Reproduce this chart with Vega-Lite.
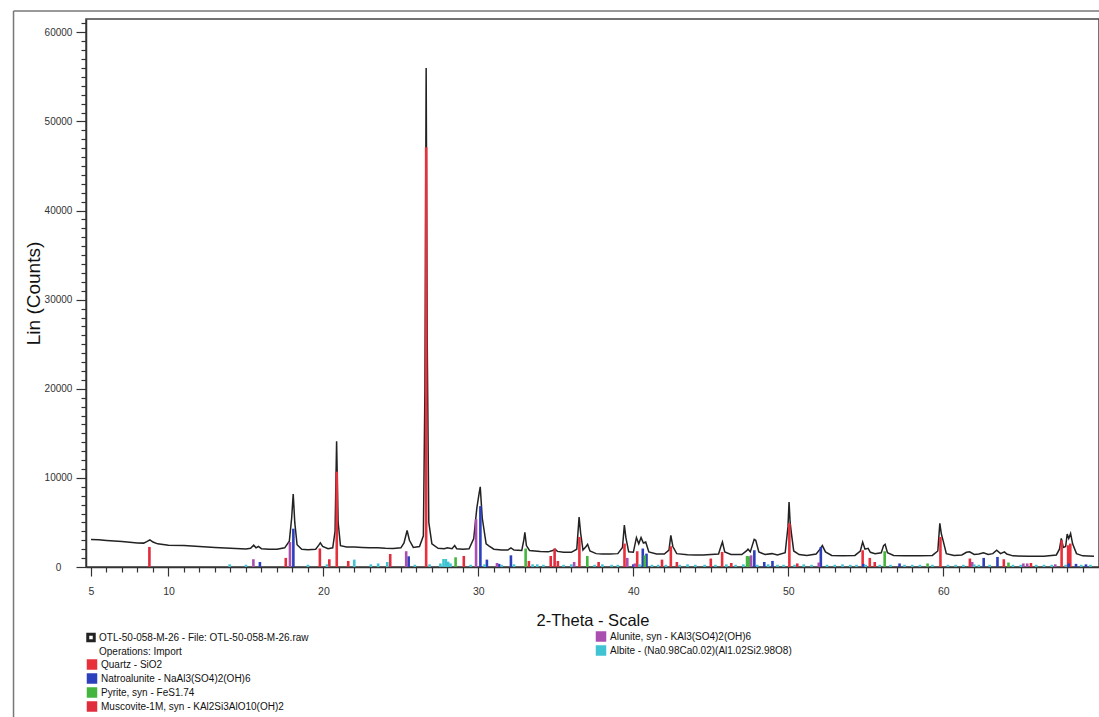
{
  "$schema": "https://vega.github.io/schema/vega-lite/v6.json",
  "width": 1013,
  "height": 548,
  "autosize": {"type": "none"},
  "padding": {"left": 86, "top": 19, "right": 0, "bottom": 150},
  "background": "white",
  "config": {
    "font": "Liberation Sans",
    "view": {"stroke": "#444", "strokeWidth": 1.5},
    "legend": {"labelFont": "Liberation Sans", "labelFontSize": 10, "labelColor": "#111", "padding": 0, "rowPadding": 3, "clipHeight": 11, "labelOffset": 3, "labelLimit": 400}
  },
  "resolve": {"axis": {"x": "independent", "y": "independent"}},
  "datasets": {
    "scan": [
      {"t":5.0,"c":3100},{"t":5.5,"c":3050},{"t":6.0,"c":2980},{"t":6.5,"c":2920},{"t":7.0,"c":2850},{"t":7.5,"c":2780},{"t":8.0,"c":2700},{"t":8.4,"c":2680},{"t":8.6,"c":2850},{"t":8.8,"c":3050},{"t":9.0,"c":2800},{"t":9.3,"c":2600},{"t":10.0,"c":2450},{"t":11.0,"c":2400},{"t":12.0,"c":2300},{"t":13.0,"c":2200},{"t":14.0,"c":2100},{"t":15.0,"c":2030},{"t":15.3,"c":2100},{"t":15.5,"c":2450},{"t":15.65,"c":2150},{"t":15.8,"c":2300},{"t":16.0,"c":2050},{"t":16.5,"c":1980},{"t":17.0,"c":2000},{"t":17.5,"c":2150},{"t":17.8,"c":2900},{"t":17.95,"c":5500},{"t":18.05,"c":8200},{"t":18.15,"c":5000},{"t":18.3,"c":2500},{"t":18.6,"c":2000},{"t":19.0,"c":1950},{"t":19.5,"c":2000},{"t":19.7,"c":2450},{"t":19.8,"c":2700},{"t":19.95,"c":2300},{"t":20.3,"c":2050},{"t":20.6,"c":2150},{"t":20.75,"c":4000},{"t":20.85,"c":14100},{"t":20.95,"c":5000},{"t":21.1,"c":2400},{"t":21.5,"c":2250},{"t":22.0,"c":2250},{"t":22.5,"c":2200},{"t":23.0,"c":2150},{"t":23.5,"c":2150},{"t":24.0,"c":2100},{"t":24.5,"c":2080},{"t":25.0,"c":2150},{"t":25.2,"c":2700},{"t":25.4,"c":4100},{"t":25.55,"c":3000},{"t":25.8,"c":2200},{"t":26.2,"c":2300},{"t":26.45,"c":3500},{"t":26.55,"c":20000},{"t":26.63,"c":56000},{"t":26.7,"c":25000},{"t":26.8,"c":5000},{"t":27.0,"c":2600},{"t":27.4,"c":2100},{"t":27.8,"c":2050},{"t":28.0,"c":2150},{"t":28.3,"c":2050},{"t":28.47,"c":2400},{"t":28.6,"c":2050},{"t":29.0,"c":2000},{"t":29.4,"c":2050},{"t":29.7,"c":3200},{"t":29.9,"c":6600},{"t":30.05,"c":8300},{"t":30.12,"c":9000},{"t":30.25,"c":5500},{"t":30.5,"c":2600},{"t":30.7,"c":2350},{"t":31.0,"c":2000},{"t":31.5,"c":1900},{"t":31.9,"c":1900},{"t":32.1,"c":2150},{"t":32.3,"c":1900},{"t":32.8,"c":1850},{"t":32.93,"c":3000},{"t":33.0,"c":3900},{"t":33.1,"c":2400},{"t":33.3,"c":1850},{"t":34.0,"c":1750},{"t":34.5,"c":1700},{"t":34.8,"c":1850},{"t":34.95,"c":2000},{"t":35.1,"c":1750},{"t":35.5,"c":1650},{"t":36.0,"c":1650},{"t":36.35,"c":2000},{"t":36.5,"c":5600},{"t":36.6,"c":3800},{"t":36.75,"c":1900},{"t":36.95,"c":2300},{"t":37.05,"c":2550},{"t":37.2,"c":1800},{"t":37.6,"c":1500},{"t":38.0,"c":1450},{"t":38.5,"c":1450},{"t":39.0,"c":1500},{"t":39.3,"c":2200},{"t":39.42,"c":4700},{"t":39.52,"c":3300},{"t":39.7,"c":1700},{"t":40.0,"c":1650},{"t":40.2,"c":3300},{"t":40.35,"c":2600},{"t":40.5,"c":3300},{"t":40.65,"c":2700},{"t":40.8,"c":2800},{"t":41.0,"c":1700},{"t":41.5,"c":1450},{"t":42.0,"c":1450},{"t":42.3,"c":1900},{"t":42.42,"c":3550},{"t":42.55,"c":2300},{"t":42.8,"c":1500},{"t":43.5,"c":1380},{"t":44.0,"c":1350},{"t":44.5,"c":1350},{"t":45.0,"c":1400},{"t":45.5,"c":1450},{"t":45.65,"c":2300},{"t":45.75,"c":2800},{"t":45.9,"c":1700},{"t":46.3,"c":1400},{"t":47.0,"c":1400},{"t":47.3,"c":1800},{"t":47.4,"c":2000},{"t":47.55,"c":1700},{"t":47.8,"c":3100},{"t":47.9,"c":3000},{"t":48.1,"c":1700},{"t":48.5,"c":1400},{"t":48.95,"c":1500},{"t":49.3,"c":1350},{"t":49.8,"c":1600},{"t":49.98,"c":4500},{"t":50.05,"c":7300},{"t":50.12,"c":5000},{"t":50.2,"c":3800},{"t":50.35,"c":1800},{"t":50.7,"c":1400},{"t":51.2,"c":1300},{"t":51.8,"c":1450},{"t":52.05,"c":2000},{"t":52.2,"c":2400},{"t":52.4,"c":1700},{"t":52.8,"c":1300},{"t":53.5,"c":1250},{"t":54.3,"c":1300},{"t":54.65,"c":1800},{"t":54.8,"c":2800},{"t":54.95,"c":2000},{"t":55.15,"c":2100},{"t":55.3,"c":1650},{"t":55.6,"c":1500},{"t":56.0,"c":1600},{"t":56.15,"c":2400},{"t":56.25,"c":2550},{"t":56.4,"c":1600},{"t":56.8,"c":1300},{"t":57.5,"c":1250},{"t":58.5,"c":1250},{"t":59.3,"c":1300},{"t":59.65,"c":1800},{"t":59.78,"c":4900},{"t":59.88,"c":3700},{"t":60.0,"c":2900},{"t":60.2,"c":1500},{"t":60.7,"c":1300},{"t":61.2,"c":1350},{"t":61.5,"c":1650},{"t":61.7,"c":1700},{"t":62.0,"c":1400},{"t":62.3,"c":1450},{"t":62.6,"c":1600},{"t":62.9,"c":1400},{"t":63.2,"c":1500},{"t":63.45,"c":1880},{"t":63.7,"c":1500},{"t":63.95,"c":1700},{"t":64.1,"c":1450},{"t":64.5,"c":1250},{"t":65.5,"c":1200},{"t":66.5,"c":1200},{"t":67.3,"c":1350},{"t":67.5,"c":2000},{"t":67.62,"c":3200},{"t":67.75,"c":2200},{"t":67.9,"c":2300},{"t":68.0,"c":3700},{"t":68.1,"c":3200},{"t":68.22,"c":3750},{"t":68.35,"c":2600},{"t":68.6,"c":1500},{"t":69.0,"c":1250},{"t":69.73,"c":1200}
    ],
    "sticks": [
      {"phase":"Quartz - SiO2","t":20.86,"c":10700},{"phase":"Quartz - SiO2","t":26.63,"c":47100},{"phase":"Quartz - SiO2","t":36.52,"c":3370},{"phase":"Quartz - SiO2","t":39.43,"c":2630},{"phase":"Quartz - SiO2","t":40.25,"c":1770},{"phase":"Quartz - SiO2","t":42.42,"c":2330},{"phase":"Quartz - SiO2","t":45.73,"c":1690},{"phase":"Quartz - SiO2","t":50.07,"c":4900},{"phase":"Quartz - SiO2","t":54.8,"c":1880},{"phase":"Quartz - SiO2","t":55.26,"c":1020},{"phase":"Quartz - SiO2","t":59.82,"c":3370},{"phase":"Quartz - SiO2","t":67.64,"c":3000},{"phase":"Quartz - SiO2","t":68.06,"c":2440},{"phase":"Quartz - SiO2","t":68.2,"c":2630},
      {"phase":"Muscovite-1M, syn - KAl2Si3AlO10(OH)2","t":8.77,"c":2250},{"phase":"Muscovite-1M, syn - KAl2Si3AlO10(OH)2","t":17.57,"c":1020},{"phase":"Muscovite-1M, syn - KAl2Si3AlO10(OH)2","t":19.77,"c":2080},{"phase":"Muscovite-1M, syn - KAl2Si3AlO10(OH)2","t":20.38,"c":870},{"phase":"Muscovite-1M, syn - KAl2Si3AlO10(OH)2","t":21.6,"c":680},{"phase":"Muscovite-1M, syn - KAl2Si3AlO10(OH)2","t":24.31,"c":1460},{"phase":"Muscovite-1M, syn - KAl2Si3AlO10(OH)2","t":29.06,"c":1240},{"phase":"Muscovite-1M, syn - KAl2Si3AlO10(OH)2","t":33.26,"c":680},{"phase":"Muscovite-1M, syn - KAl2Si3AlO10(OH)2","t":34.67,"c":1240},{"phase":"Muscovite-1M, syn - KAl2Si3AlO10(OH)2","t":34.92,"c":2070},{"phase":"Muscovite-1M, syn - KAl2Si3AlO10(OH)2","t":35.13,"c":680},{"phase":"Muscovite-1M, syn - KAl2Si3AlO10(OH)2","t":37.76,"c":560},{"phase":"Muscovite-1M, syn - KAl2Si3AlO10(OH)2","t":41.85,"c":830},{"phase":"Muscovite-1M, syn - KAl2Si3AlO10(OH)2","t":42.81,"c":560},{"phase":"Muscovite-1M, syn - KAl2Si3AlO10(OH)2","t":45.0,"c":950},{"phase":"Muscovite-1M, syn - KAl2Si3AlO10(OH)2","t":46.32,"c":450},{"phase":"Muscovite-1M, syn - KAl2Si3AlO10(OH)2","t":50.58,"c":400},{"phase":"Muscovite-1M, syn - KAl2Si3AlO10(OH)2","t":55.58,"c":560},{"phase":"Muscovite-1M, syn - KAl2Si3AlO10(OH)2","t":61.72,"c":950},{"phase":"Muscovite-1M, syn - KAl2Si3AlO10(OH)2","t":63.91,"c":870},{"phase":"Muscovite-1M, syn - KAl2Si3AlO10(OH)2","t":65.66,"c":450},
      {"phase":"Natroalunite - NaAl3(SO4)2(OH)6","t":15.9,"c":560},{"phase":"Natroalunite - NaAl3(SO4)2(OH)6","t":18.06,"c":4300},{"phase":"Natroalunite - NaAl3(SO4)2(OH)6","t":25.5,"c":1200},{"phase":"Natroalunite - NaAl3(SO4)2(OH)6","t":30.13,"c":6830},{"phase":"Natroalunite - NaAl3(SO4)2(OH)6","t":30.55,"c":830},{"phase":"Natroalunite - NaAl3(SO4)2(OH)6","t":31.34,"c":350},{"phase":"Natroalunite - NaAl3(SO4)2(OH)6","t":32.1,"c":1310},{"phase":"Natroalunite - NaAl3(SO4)2(OH)6","t":40.0,"c":300},{"phase":"Natroalunite - NaAl3(SO4)2(OH)6","t":40.61,"c":2070},{"phase":"Natroalunite - NaAl3(SO4)2(OH)6","t":40.85,"c":1500},{"phase":"Natroalunite - NaAl3(SO4)2(OH)6","t":47.81,"c":1880},{"phase":"Natroalunite - NaAl3(SO4)2(OH)6","t":48.45,"c":560},{"phase":"Natroalunite - NaAl3(SO4)2(OH)6","t":48.98,"c":680},{"phase":"Natroalunite - NaAl3(SO4)2(OH)6","t":52.1,"c":2250},{"phase":"Natroalunite - NaAl3(SO4)2(OH)6","t":54.84,"c":350},{"phase":"Natroalunite - NaAl3(SO4)2(OH)6","t":57.18,"c":400},{"phase":"Natroalunite - NaAl3(SO4)2(OH)6","t":62.61,"c":1020},{"phase":"Natroalunite - NaAl3(SO4)2(OH)6","t":63.5,"c":1130},{"phase":"Natroalunite - NaAl3(SO4)2(OH)6","t":68.1,"c":400},{"phase":"Natroalunite - NaAl3(SO4)2(OH)6","t":68.57,"c":350},{"phase":"Natroalunite - NaAl3(SO4)2(OH)6","t":69.21,"c":300},
      {"phase":"Pyrite, syn - FeS1.74","t":28.53,"c":1090},{"phase":"Pyrite, syn - FeS1.74","t":33.05,"c":2070},{"phase":"Pyrite, syn - FeS1.74","t":37.03,"c":1240},{"phase":"Pyrite, syn - FeS1.74","t":40.74,"c":1300},{"phase":"Pyrite, syn - FeS1.74","t":47.34,"c":1240},{"phase":"Pyrite, syn - FeS1.74","t":47.45,"c":1200},{"phase":"Pyrite, syn - FeS1.74","t":56.22,"c":1770},{"phase":"Pyrite, syn - FeS1.74","t":58.99,"c":400},{"phase":"Pyrite, syn - FeS1.74","t":64.21,"c":500},
      {"phase":"Alunite, syn - KAl3(SO4)2(OH)6","t":15.48,"c":870},{"phase":"Alunite, syn - KAl3(SO4)2(OH)6","t":17.84,"c":2800},{"phase":"Alunite, syn - KAl3(SO4)2(OH)6","t":25.34,"c":1770},{"phase":"Alunite, syn - KAl3(SO4)2(OH)6","t":29.85,"c":5370},{"phase":"Alunite, syn - KAl3(SO4)2(OH)6","t":31.2,"c":450},{"phase":"Alunite, syn - KAl3(SO4)2(OH)6","t":36.18,"c":560},{"phase":"Alunite, syn - KAl3(SO4)2(OH)6","t":39.61,"c":1020},{"phase":"Alunite, syn - KAl3(SO4)2(OH)6","t":40.1,"c":400},{"phase":"Alunite, syn - KAl3(SO4)2(OH)6","t":47.6,"c":1310},{"phase":"Alunite, syn - KAl3(SO4)2(OH)6","t":51.97,"c":500},{"phase":"Alunite, syn - KAl3(SO4)2(OH)6","t":61.87,"c":560},{"phase":"Alunite, syn - KAl3(SO4)2(OH)6","t":65.17,"c":400},{"phase":"Alunite, syn - KAl3(SO4)2(OH)6","t":65.42,"c":400},{"phase":"Alunite, syn - KAl3(SO4)2(OH)6","t":67.23,"c":300},
      {"phase":"Albite - (Na0.98Ca0.02)(Al1.02Si2.98O8)","t":13.95,"c":300},{"phase":"Albite - (Na0.98Ca0.02)(Al1.02Si2.98O8)","t":15.0,"c":250},{"phase":"Albite - (Na0.98Ca0.02)(Al1.02Si2.98O8)","t":19.0,"c":250},{"phase":"Albite - (Na0.98Ca0.02)(Al1.02Si2.98O8)","t":20.23,"c":300},{"phase":"Albite - (Na0.98Ca0.02)(Al1.02Si2.98O8)","t":21.99,"c":830},{"phase":"Albite - (Na0.98Ca0.02)(Al1.02Si2.98O8)","t":23.06,"c":300},{"phase":"Albite - (Na0.98Ca0.02)(Al1.02Si2.98O8)","t":23.53,"c":400},{"phase":"Albite - (Na0.98Ca0.02)(Al1.02Si2.98O8)","t":24.12,"c":560},{"phase":"Albite - (Na0.98Ca0.02)(Al1.02Si2.98O8)","t":25.9,"c":250},{"phase":"Albite - (Na0.98Ca0.02)(Al1.02Si2.98O8)","t":26.85,"c":300},{"phase":"Albite - (Na0.98Ca0.02)(Al1.02Si2.98O8)","t":27.55,"c":400},{"phase":"Albite - (Na0.98Ca0.02)(Al1.02Si2.98O8)","t":27.75,"c":900},{"phase":"Albite - (Na0.98Ca0.02)(Al1.02Si2.98O8)","t":27.9,"c":900},{"phase":"Albite - (Na0.98Ca0.02)(Al1.02Si2.98O8)","t":28.05,"c":600},{"phase":"Albite - (Na0.98Ca0.02)(Al1.02Si2.98O8)","t":28.2,"c":400},{"phase":"Albite - (Na0.98Ca0.02)(Al1.02Si2.98O8)","t":29.5,"c":250},{"phase":"Albite - (Na0.98Ca0.02)(Al1.02Si2.98O8)","t":30.4,"c":300},{"phase":"Albite - (Na0.98Ca0.02)(Al1.02Si2.98O8)","t":31.5,"c":250},{"phase":"Albite - (Na0.98Ca0.02)(Al1.02Si2.98O8)","t":32.3,"c":300},{"phase":"Albite - (Na0.98Ca0.02)(Al1.02Si2.98O8)","t":33.5,"c":300},{"phase":"Albite - (Na0.98Ca0.02)(Al1.02Si2.98O8)","t":33.8,"c":300},{"phase":"Albite - (Na0.98Ca0.02)(Al1.02Si2.98O8)","t":34.2,"c":250},{"phase":"Albite - (Na0.98Ca0.02)(Al1.02Si2.98O8)","t":35.5,"c":250},{"phase":"Albite - (Na0.98Ca0.02)(Al1.02Si2.98O8)","t":36.0,"c":300},{"phase":"Albite - (Na0.98Ca0.02)(Al1.02Si2.98O8)","t":37.5,"c":250},{"phase":"Albite - (Na0.98Ca0.02)(Al1.02Si2.98O8)","t":38.0,"c":300},{"phase":"Albite - (Na0.98Ca0.02)(Al1.02Si2.98O8)","t":38.6,"c":250},{"phase":"Albite - (Na0.98Ca0.02)(Al1.02Si2.98O8)","t":39.0,"c":250},{"phase":"Albite - (Na0.98Ca0.02)(Al1.02Si2.98O8)","t":40.4,"c":300},{"phase":"Albite - (Na0.98Ca0.02)(Al1.02Si2.98O8)","t":41.2,"c":250},{"phase":"Albite - (Na0.98Ca0.02)(Al1.02Si2.98O8)","t":41.6,"c":250},{"phase":"Albite - (Na0.98Ca0.02)(Al1.02Si2.98O8)","t":42.1,"c":250},{"phase":"Albite - (Na0.98Ca0.02)(Al1.02Si2.98O8)","t":43.0,"c":250},{"phase":"Albite - (Na0.98Ca0.02)(Al1.02Si2.98O8)","t":43.5,"c":300},{"phase":"Albite - (Na0.98Ca0.02)(Al1.02Si2.98O8)","t":44.0,"c":250},{"phase":"Albite - (Na0.98Ca0.02)(Al1.02Si2.98O8)","t":44.6,"c":250},{"phase":"Albite - (Na0.98Ca0.02)(Al1.02Si2.98O8)","t":45.3,"c":250},{"phase":"Albite - (Na0.98Ca0.02)(Al1.02Si2.98O8)","t":46.0,"c":300},{"phase":"Albite - (Na0.98Ca0.02)(Al1.02Si2.98O8)","t":46.6,"c":250},{"phase":"Albite - (Na0.98Ca0.02)(Al1.02Si2.98O8)","t":47.1,"c":300},{"phase":"Albite - (Na0.98Ca0.02)(Al1.02Si2.98O8)","t":48.0,"c":250},{"phase":"Albite - (Na0.98Ca0.02)(Al1.02Si2.98O8)","t":48.7,"c":300},{"phase":"Albite - (Na0.98Ca0.02)(Al1.02Si2.98O8)","t":49.3,"c":250},{"phase":"Albite - (Na0.98Ca0.02)(Al1.02Si2.98O8)","t":49.7,"c":250},{"phase":"Albite - (Na0.98Ca0.02)(Al1.02Si2.98O8)","t":50.4,"c":250},{"phase":"Albite - (Na0.98Ca0.02)(Al1.02Si2.98O8)","t":51.0,"c":300},{"phase":"Albite - (Na0.98Ca0.02)(Al1.02Si2.98O8)","t":51.5,"c":250},{"phase":"Albite - (Na0.98Ca0.02)(Al1.02Si2.98O8)","t":52.5,"c":250},{"phase":"Albite - (Na0.98Ca0.02)(Al1.02Si2.98O8)","t":53.0,"c":250},{"phase":"Albite - (Na0.98Ca0.02)(Al1.02Si2.98O8)","t":53.5,"c":300},{"phase":"Albite - (Na0.98Ca0.02)(Al1.02Si2.98O8)","t":54.0,"c":250},{"phase":"Albite - (Na0.98Ca0.02)(Al1.02Si2.98O8)","t":54.4,"c":250},{"phase":"Albite - (Na0.98Ca0.02)(Al1.02Si2.98O8)","t":55.0,"c":250},{"phase":"Albite - (Na0.98Ca0.02)(Al1.02Si2.98O8)","t":55.9,"c":250},{"phase":"Albite - (Na0.98Ca0.02)(Al1.02Si2.98O8)","t":56.6,"c":250},{"phase":"Albite - (Na0.98Ca0.02)(Al1.02Si2.98O8)","t":57.5,"c":250},{"phase":"Albite - (Na0.98Ca0.02)(Al1.02Si2.98O8)","t":58.0,"c":250},{"phase":"Albite - (Na0.98Ca0.02)(Al1.02Si2.98O8)","t":58.5,"c":250},{"phase":"Albite - (Na0.98Ca0.02)(Al1.02Si2.98O8)","t":59.3,"c":250},{"phase":"Albite - (Na0.98Ca0.02)(Al1.02Si2.98O8)","t":60.3,"c":250},{"phase":"Albite - (Na0.98Ca0.02)(Al1.02Si2.98O8)","t":60.8,"c":250},{"phase":"Albite - (Na0.98Ca0.02)(Al1.02Si2.98O8)","t":61.3,"c":250},{"phase":"Albite - (Na0.98Ca0.02)(Al1.02Si2.98O8)","t":62.0,"c":300},{"phase":"Albite - (Na0.98Ca0.02)(Al1.02Si2.98O8)","t":62.3,"c":250},{"phase":"Albite - (Na0.98Ca0.02)(Al1.02Si2.98O8)","t":63.0,"c":250},{"phase":"Albite - (Na0.98Ca0.02)(Al1.02Si2.98O8)","t":64.5,"c":250},{"phase":"Albite - (Na0.98Ca0.02)(Al1.02Si2.98O8)","t":65.0,"c":250},{"phase":"Albite - (Na0.98Ca0.02)(Al1.02Si2.98O8)","t":66.0,"c":250},{"phase":"Albite - (Na0.98Ca0.02)(Al1.02Si2.98O8)","t":66.5,"c":250},{"phase":"Albite - (Na0.98Ca0.02)(Al1.02Si2.98O8)","t":67.0,"c":250},{"phase":"Albite - (Na0.98Ca0.02)(Al1.02Si2.98O8)","t":67.9,"c":250},{"phase":"Albite - (Na0.98Ca0.02)(Al1.02Si2.98O8)","t":68.9,"c":250},{"phase":"Albite - (Na0.98Ca0.02)(Al1.02Si2.98O8)","t":69.5,"c":250}
    ]
  },
  "layer": [
    {
      "data": {"name": "scan"},
      "mark": {"type": "line", "strokeWidth": 1.5, "clip": true},
      "encoding": {
        "x": {"field": "t", "type": "quantitative",
          "scale": {"domain": [5, 69.73], "nice": false, "zero": false},
          "axis": {"orient": "bottom", "values": [5,6,7,8,9,10,11,12,13,14,15,16,17,18,19,20,21,22,23,24,25,26,27,28,29,30,31,32,33,34,35,36,37,38,39,40,41,42,43,44,45,46,47,48,49,50,51,52,53,54,55,56,57,58,59,60,61,62,63,64,65,66,67,68,69],
            "format": "d", "labelExpr": "indexof([5,10,20,30,40,50,60], datum.value) >= 0 ? datum.label : ''", "labelOverlap": false,
            "grid": false,
            "tickSize": {"condition": {"test": "datum.value % 10 == 0 || datum.value == 5", "value": 9}, "value": 5},
            "tickColor": "#333", "tickWidth": 1.2, "domainColor": "#333", "domainWidth": 1.5,
            "labelFont": "Liberation Sans", "labelFontSize": 10.5, "labelColor": "#333", "labelPadding": 10, "labelFlush": false,
            "title": "2-Theta - Scale", "titleFont": "Liberation Sans", "titleFontSize": 16.5, "titleFontWeight": "normal", "titleColor": "#111", "titlePadding": 16}},
        "y": {"field": "c", "type": "quantitative",
          "scale": {"domain": [0, 61500], "nice": false, "zero": true},
          "axis": {"orient": "left", "values": [0,1000,2000,3000,4000,5000,6000,7000,8000,9000,10000,11000,12000,13000,14000,15000,16000,17000,18000,19000,20000,21000,22000,23000,24000,25000,26000,27000,28000,29000,30000,31000,32000,33000,34000,35000,36000,37000,38000,39000,40000,41000,42000,43000,44000,45000,46000,47000,48000,49000,50000,51000,52000,53000,54000,55000,56000,57000,58000,59000,60000,61000],
            "format": "d", "labelExpr": "datum.value % 10000 == 0 ? datum.label : ''", "labelOverlap": false,
            "grid": false,
            "tickSize": {"condition": {"test": "datum.value % 10000 == 0", "value": 10}, "value": 5},
            "tickColor": "#333", "tickWidth": 1.2, "domainColor": "#333", "domainWidth": 1.5,
            "labelFont": "Liberation Sans", "labelFontSize": 10, "labelColor": "#333", "labelAlign": "center", "labelPadding": 18,
            "title": "Lin (Counts)", "titleFont": "Liberation Sans", "titleFontSize": 19, "titleFontWeight": "normal", "titleColor": "#111", "titlePadding": 1}},
        "stroke": {"datum": "OTL-50-058-M-26 - File: OTL-50-058-M-26.raw", "type": "nominal",
          "scale": {"domain": ["OTL-50-058-M-26 - File: OTL-50-058-M-26.raw", "Operations: Import"], "range": ["#222", "rgba(0,0,0,0)"]},
          "legend": {"orient": "none", "legendX": 0, "legendY": 613, "title": null, "symbolType": "square", "symbolSize": 42, "symbolStrokeWidth": 3, "symbolFillColor": "white"}}
      }
    },
    {
      "data": {"name": "sticks"},
      "transform": [{"filter": {"field": "phase", "oneOf": ["Quartz - SiO2", "Natroalunite - NaAl3(SO4)2(OH)6", "Pyrite, syn - FeS1.74", "Muscovite-1M, syn - KAl2Si3AlO10(OH)2"]}}],
      "mark": {"type": "bar", "orient": "vertical", "width": 2.6},
      "encoding": {
        "x": {"field": "t", "type": "quantitative", "axis": null},
        "y": {"field": "c", "type": "quantitative", "stack": null, "axis": null},
        "color": {"field": "phase", "type": "nominal",
          "scale": {"domain": ["Quartz - SiO2", "Natroalunite - NaAl3(SO4)2(OH)6", "Pyrite, syn - FeS1.74", "Muscovite-1M, syn - KAl2Si3AlO10(OH)2"], "range": ["#e8303a", "#2c3fbd", "#44b63f", "#e02c3c"]},
          "legend": {"orient": "none", "legendX": 0, "legendY": 640, "title": null, "symbolType": "square", "symbolSize": 110, "symbolOpacity": 1}}
      }
    },
    {
      "data": {"name": "sticks"},
      "transform": [{"filter": {"field": "phase", "oneOf": ["Alunite, syn - KAl3(SO4)2(OH)6", "Albite - (Na0.98Ca0.02)(Al1.02Si2.98O8)"]}}],
      "mark": {"type": "bar", "orient": "vertical", "width": 2.6},
      "encoding": {
        "x": {"field": "t", "type": "quantitative", "axis": null},
        "y": {"field": "c", "type": "quantitative", "stack": null, "axis": null},
        "fill": {"field": "phase", "type": "nominal",
          "scale": {"domain": ["Alunite, syn - KAl3(SO4)2(OH)6", "Albite - (Na0.98Ca0.02)(Al1.02Si2.98O8)"], "range": ["#a84fb0", "#40c4d4"]},
          "legend": {"orient": "none", "legendX": 509, "legendY": 612, "title": null, "symbolType": "square", "symbolSize": 110, "symbolOpacity": 1}}
      }
    },
    {
      "data": {"values": [{}]},
      "mark": {"type": "rule", "color": "#777", "strokeWidth": 1.5, "clip": false},
      "encoding": {
        "x": {"datum": 0, "type": "quantitative", "axis": null},
        "y": {"datum": 62400, "type": "quantitative", "axis": null},
        "y2": {"datum": -17500}
      }
    },
    {
      "data": {"values": [{}]},
      "mark": {"type": "rule", "color": "#777", "strokeWidth": 1.5, "clip": false},
      "encoding": {
        "x": {"datum": 0, "type": "quantitative", "axis": null},
        "x2": {"datum": 75},
        "y": {"datum": 62400, "type": "quantitative", "axis": null}
      }
    }
  ]
}
